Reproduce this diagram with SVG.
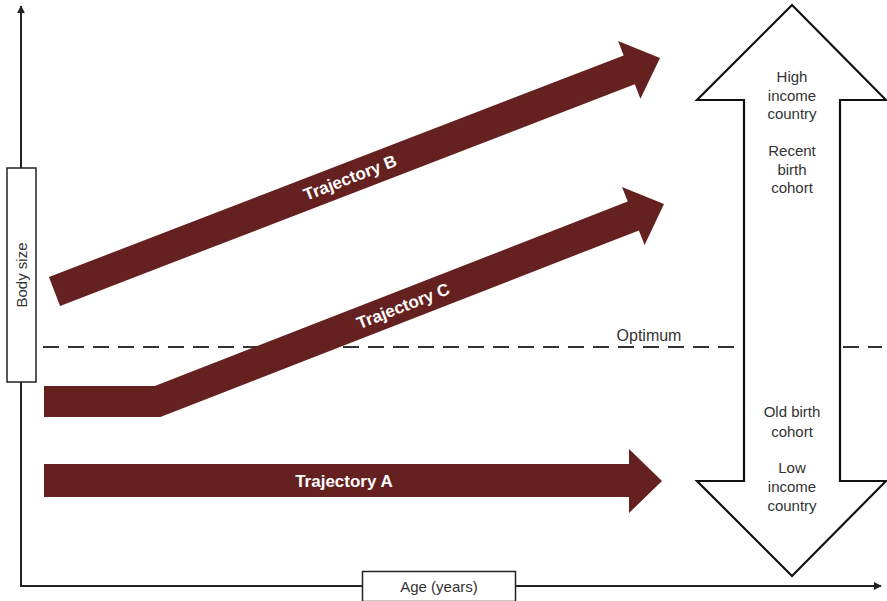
<svg xmlns="http://www.w3.org/2000/svg" width="887" height="601" viewBox="0 0 887 601">
<style>
.axis{stroke:#222;stroke-width:2;fill:none}
.lbl{font-family:"Liberation Sans",Arial,sans-serif;font-size:15px;fill:#333;text-anchor:middle}
.traj{fill:#65211f}
.tl{font-family:"Liberation Sans",Arial,sans-serif;font-size:17px;font-weight:bold;fill:#fff;text-anchor:middle}
.box{fill:#fff;stroke:#222;stroke-width:1.5}
.big{fill:#fff;stroke:#111;stroke-width:2.2;stroke-linejoin:miter}
</style>
<defs>
<marker id="ah" viewBox="0 0 10 10" refX="9" refY="5" markerWidth="8" markerHeight="8" markerUnits="userSpaceOnUse" orient="auto">
<path d="M0,0 L10,5 L0,10 Z" fill="#222"/>
</marker>
</defs>
<rect width="887" height="601" fill="#fff"/>
<g id="connectors">
<line class="axis" x1="21" y1="587" x2="21" y2="6" marker-end="url(#ah)"/>
<line class="axis" x1="20" y1="586" x2="881" y2="586" marker-end="url(#ah)"/>
<line x1="43" y1="347" x2="882" y2="347" stroke="#333" stroke-width="2" stroke-dasharray="16 9"/>
</g>
<g id="body-size">
<rect class="box" x="7" y="168" width="29" height="214"/>
<text class="lbl" transform="translate(27,275) rotate(-90)">Body size</text>
</g>
<g id="age">
<rect class="box" x="362.5" y="571.5" width="153" height="30"/>
<text class="lbl" x="439" y="592">Age (years)</text>
</g>
<g id="optimum">
<text class="lbl" x="649" y="341" style="font-size:16px">Optimum</text>
</g>
<g id="trajectory-a">
<polygon class="traj" points="44,464 629,464 629,449 662,481 629,513 629,497 44,497"/>
<text class="tl" x="344" y="487">Trajectory A</text>
</g>
<g id="trajectory-b">
<polygon class="traj" transform="translate(54.5,291.5) rotate(-21.09)" points="0,-15.5 616,-15.5 616,-31 649,0 616,31 616,15.5 0,15.5"/>
<text class="tl" transform="translate(350,177.5) rotate(-21.09)" x="0" y="6">Trajectory B</text>
</g>
<g id="trajectory-c">
<polygon class="traj" points="44,386 154.8,386 627.7,201.6 622,187.1 664,204 644.6,244.9 638.9,230.4 160.4,417 44,417"/>
<text class="tl" transform="translate(403,305.8) rotate(-21.3)" x="0" y="6">Trajectory C</text>
</g>
<g id="income-cohort-arrow">
<polygon class="big" points="792,5 886,100 840,100 840,481 886,481 792,576 697,481 744,481 744,100 697,100"/>
<text class="lbl" x="792" y="82">High</text>
<text class="lbl" x="792" y="101">income</text>
<text class="lbl" x="792" y="119">country</text>
<text class="lbl" x="792" y="156">Recent</text>
<text class="lbl" x="792" y="175">birth</text>
<text class="lbl" x="792" y="193">cohort</text>
<text class="lbl" x="792" y="417">Old birth</text>
<text class="lbl" x="792" y="437">cohort</text>
<text class="lbl" x="792" y="473">Low</text>
<text class="lbl" x="792" y="492">income</text>
<text class="lbl" x="792" y="511">country</text>
</g>
</svg>
